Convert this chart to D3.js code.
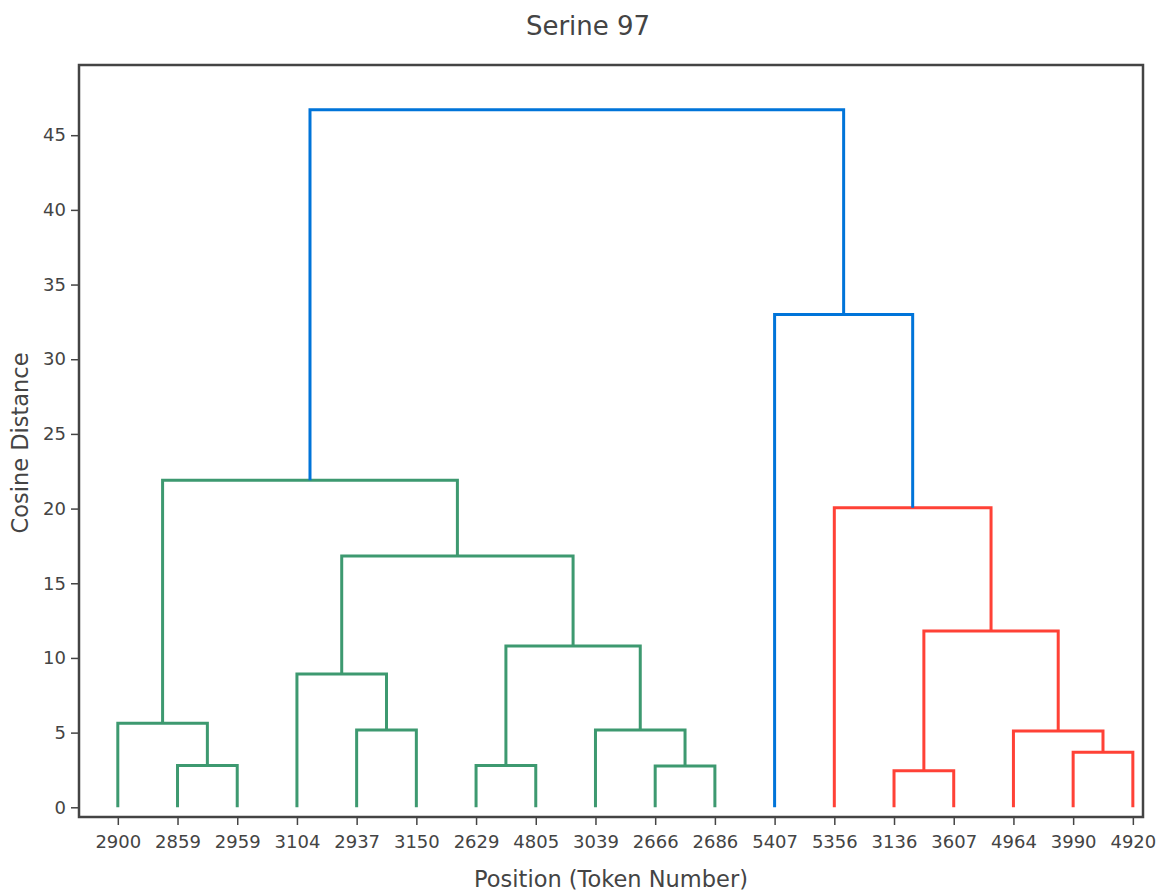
<!DOCTYPE html>
<meta charset="utf-8">
<style>
body { margin: 0; background: #fff; font-family: "DejaVu Sans", Verdana, sans-serif; }
.axis path { display: none; }
.axis line { stroke: #444; stroke-width: 1.5; }
.axis text { fill: #444; font-size: 18px; font-family: "DejaVu Sans", Verdana, sans-serif; }
</style>
<body>
<div id="chart"></div>
<script src="https://d3js.org/d3.v7.min.js"></script>
<script>

// leaves, left to right
var leafLabels = ["2900", "2859", "2959", "3104", "2937", "3150", "2629", "4805", "3039",
                  "2666", "2686", "5407", "5356", "3136", "3607", "4964", "3990", "4920"];

// merges: node ids 0-17 are leaves, merge k makes node 18+k
var mergeLeft   = [1, 0, 4, 3, 6, 9, 8, 22, 21, 19, 13, 16, 15, 28, 12, 11, 27];
var mergeRight  = [2, 18, 5, 20, 7, 10, 23, 24, 25, 26, 14, 17, 29, 30, 31, 32, 33];
var mergeHeight = [2.79, 5.63, 5.18, 8.93, 2.79, 2.77, 5.18, 10.8, 16.83, 21.9,
                   2.45, 3.68, 5.11, 11.8, 20.05, 33.0, 46.7];
var mergeGroup  = ["g", "g", "g", "g", "g", "g", "g", "g", "g", "g",
                   "r", "r", "r", "r", "r", "b", "b"];

var yTicks = [0, 5, 10, 15, 20, 25, 30, 35, 40, 45];

var colors = {g: "#3D9970", r: "#FF4136", b: "#0074D9"};

var W = 1159, H = 894;
var plot = {left: 79, right: 1143, top: 65, bottom: 817};

var svg = d3.select("#chart").append("svg")
    .attr("width", W)
    .attr("height", H);

// leaves sit at 5, 15, 25 ... like plotly's dendrogram
var xScale = d3.scaleLinear().domain([-1.5, 176.7]).range([plot.left, plot.right]);
var yScale = d3.scaleLinear().domain([-0.65, 49.7]).range([plot.bottom, plot.top]);

// position and height of every node
var nodeX = leafLabels.map(function(d, i) { return 5 + 10 * i; });
var nodeY = leafLabels.map(function() { return 0; });
mergeLeft.forEach(function(l, k) {
  var r = mergeRight[k];
  nodeX.push((nodeX[l] + nodeX[r]) / 2);
  nodeY.push(mergeHeight[k]);
});

var links = mergeLeft.map(function(l, k) {
  var r = mergeRight[k];
  return {
    pts: [[nodeX[l], nodeY[l]], [nodeX[l], mergeHeight[k]],
          [nodeX[r], mergeHeight[k]], [nodeX[r], nodeY[r]]],
    color: colors[mergeGroup[k]]
  };
});

var line = d3.line()
    .x(function(d) { return xScale(d[0]); })
    .y(function(d) { return yScale(d[1]); });

svg.append("g")
  .selectAll("path")
  .data(links)
  .enter()
  .append("path")
    .attr("d", function(d) { return line(d.pts); })
    .attr("fill", "none")
    .attr("stroke", function(d) { return d.color; })
    .attr("stroke-width", 3);

// frame
svg.append("rect")
    .attr("x", plot.left)
    .attr("y", plot.top)
    .attr("width", plot.right - plot.left)
    .attr("height", plot.bottom - plot.top)
    .attr("fill", "none")
    .attr("stroke", "#444")
    .attr("stroke-width", 2.5);

// y axis
svg.append("g")
    .attr("class", "axis")
    .attr("transform", "translate(" + (plot.left - 1) + ",0)")
    .call(d3.axisLeft(yScale).tickValues(yTicks).tickSize(7).tickPadding(5));

// x axis
svg.append("g")
    .attr("class", "axis")
    .attr("transform", "translate(0," + (plot.bottom + 1) + ")")
    .call(d3.axisBottom(xScale)
      .tickValues(leafLabels.map(function(d, i) { return 5 + 10 * i; }))
      .tickFormat(function(d, i) { return leafLabels[i]; })
      .tickSize(7).tickPadding(10));

svg.append("text")
    .attr("x", 588)
    .attr("y", 35)
    .attr("text-anchor", "middle")
    .style("font-size", "26px")
    .style("fill", "#444")
    .text("Serine 97");

svg.append("text")      // x axis title
    .attr("x", (plot.left + plot.right) / 2)
    .attr("y", 887)
    .attr("text-anchor", "middle")
    .style("font-size", "22.5px")
    .style("fill", "#444")
    .text("Position (Token Number)");

svg.append("text")      // y axis title
    .attr("transform", "rotate(-90)")
    .attr("x", -(plot.top + plot.bottom) / 2 - 2)
    .attr("y", 28)
    .attr("text-anchor", "middle")
    .style("font-size", "22.5px")
    .style("fill", "#444")
    .text("Cosine Distance");

</script>
</body>
